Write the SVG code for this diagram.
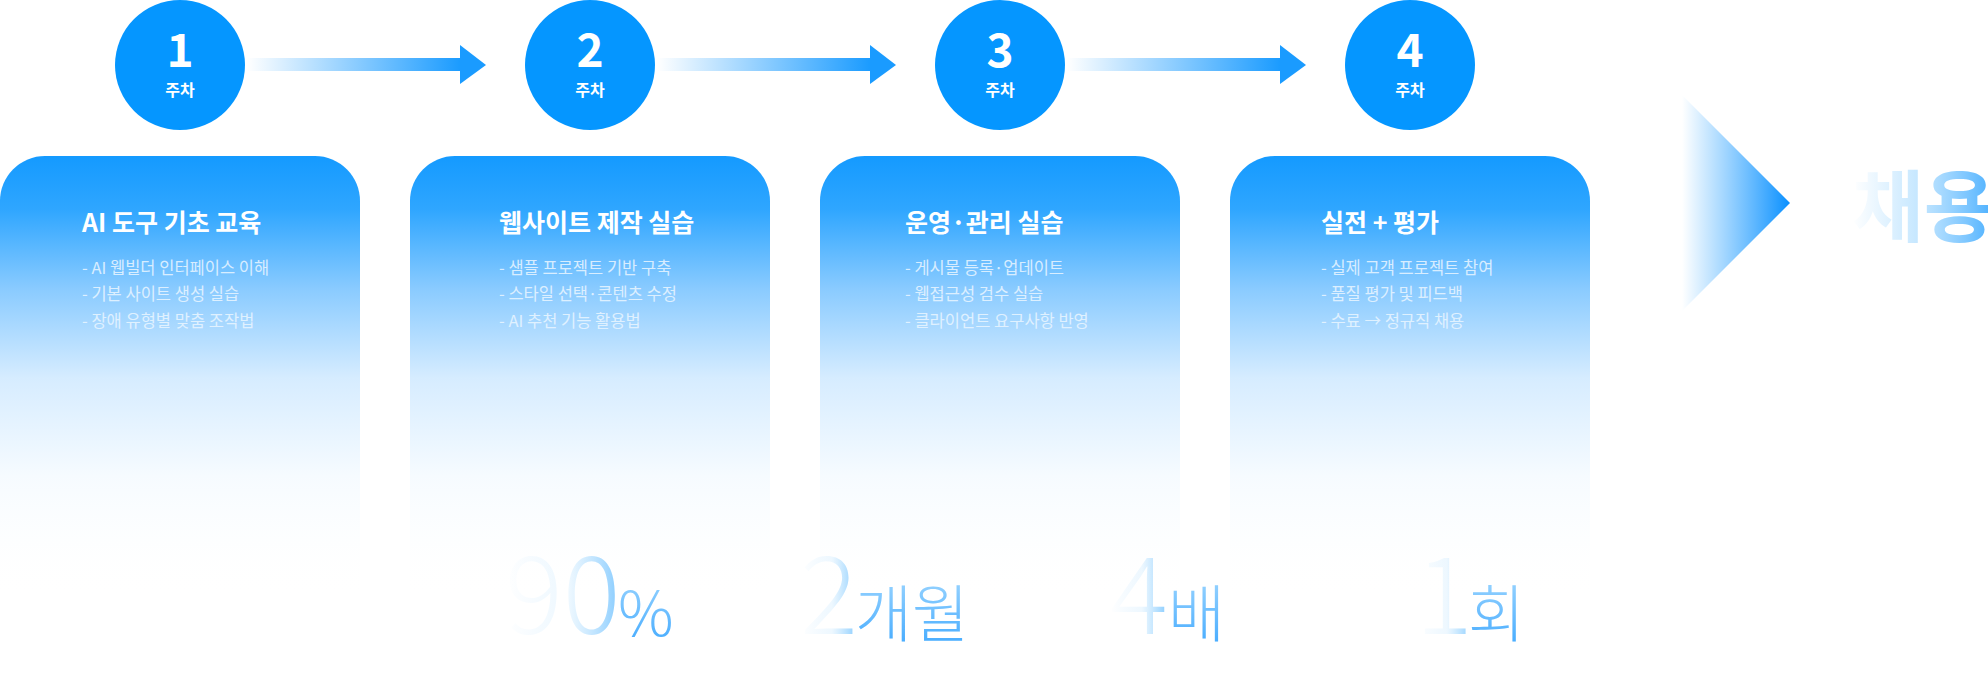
<svg xmlns="http://www.w3.org/2000/svg" width="1988" height="687" viewBox="0 0 1988 687">
<defs>
<linearGradient id="card" x1="0" y1="0" x2="0" y2="1">
<stop offset="0" stop-color="#149aff"/><stop offset="0.12" stop-color="#2fa6ff"/><stop offset="0.3" stop-color="#8acbff"/><stop offset="0.5" stop-color="#d6ecff"/><stop offset="0.72" stop-color="#f6fbff"/><stop offset="1" stop-color="#ffffff" stop-opacity="0"/>
</linearGradient>
<linearGradient id="shaft" x1="0" y1="0" x2="1" y2="0">
<stop offset="0" stop-color="#1a9bff" stop-opacity="0"/><stop offset="1" stop-color="#1a9bff"/>
</linearGradient>
<linearGradient id="chev" x1="0" y1="0" x2="1" y2="0">
<stop offset="0" stop-color="#1a9bff" stop-opacity="0"/><stop offset="1" stop-color="#0a90ff"/>
</linearGradient>
<linearGradient id="num" x1="0" y1="0" x2="1" y2="0">
<stop offset="0" stop-color="#6cc0ff" stop-opacity="0"/><stop offset="0.55" stop-color="#8ccfff" stop-opacity="0.15"/><stop offset="1" stop-color="#5ab8ff" stop-opacity="0.75"/>
</linearGradient>
<linearGradient id="unit" x1="0" y1="0" x2="0" y2="1">
<stop offset="0" stop-color="#a8dbff"/><stop offset="1" stop-color="#3aa6ff"/>
</linearGradient>
<linearGradient id="hire" x1="0" y1="0" x2="1" y2="0">
<stop offset="0" stop-color="#8fd0ff" stop-opacity="0"/><stop offset="0.45" stop-color="#8fd0ff" stop-opacity="0.5"/><stop offset="1" stop-color="#45adff"/>
</linearGradient>
<style>
text{font-family:"Noto Sans CJK KR","Noto Sans",sans-serif}
.circ{fill:#0596ff}
.n{fill:#fff;font-size:46px;font-weight:700;text-anchor:middle}
.w{fill:#fff;font-size:16px;font-weight:700;text-anchor:middle}
.t{fill:#fff;font-size:25px;font-weight:700}
.li{fill:#eaf6ff;font-size:16.5px;opacity:.85}
.big{fill:url(#num);font-size:108px;font-weight:300}
.u{fill:url(#unit);font-size:62px;font-weight:300}
</style>
</defs>
<g id="connectors">
<g fill="url(#shaft)"><rect x="247" y="58" width="214" height="13"/><rect x="657" y="58" width="214" height="13"/><rect x="1067" y="58" width="214" height="13"/></g>
<g fill="#1a9bff"><polygon points="460,45 486,65 460,84"/><polygon points="870,45 896,65 870,84"/><polygon points="1280,45 1306,65 1280,84"/></g>
</g>
<g id="step1"><circle class="circ" cx="180" cy="65" r="65"/><text class="n" x="180" y="67">1</text><text class="w" x="180" y="96">주차</text></g>
<g id="step2"><circle class="circ" cx="590" cy="65" r="65"/><text class="n" x="590" y="67">2</text><text class="w" x="590" y="96">주차</text></g>
<g id="step3"><circle class="circ" cx="1000" cy="65" r="65"/><text class="n" x="1000" y="67">3</text><text class="w" x="1000" y="96">주차</text></g>
<g id="step4"><circle class="circ" cx="1410" cy="65" r="65"/><text class="n" x="1410" y="67">4</text><text class="w" x="1410" y="96">주차</text></g>
<g id="card1"><path d="M0,600 V201 a45,45 0 0 1 45,-45 H315 a45,45 0 0 1 45,45 V600 Z" fill="url(#card)"/>
<text class="t" x="82" y="232">AI 도구 기초 교육</text>
<text class="li" x="82" y="274">-  AI 웹빌더 인터페이스 이해</text><text class="li" x="82" y="300">-  기본 사이트 생성 실습</text><text class="li" x="82" y="327">-  장애 유형별 맞춤 조작법</text></g>
<g id="card2"><path d="M410,600 V201 a45,45 0 0 1 45,-45 H725 a45,45 0 0 1 45,45 V600 Z" fill="url(#card)"/>
<text class="t" x="499" y="232">웹사이트 제작 실습</text>
<text class="li" x="499" y="274">-  샘플 프로젝트 기반 구축</text><text class="li" x="499" y="300">-  스타일 선택·콘텐츠 수정</text><text class="li" x="499" y="327">-  AI 추천 기능 활용법</text>
<text class="big" x="505" y="634">90</text><text class="u" x="618" y="636" font-size="50">%</text></g>
<g id="card3"><path d="M820,600 V201 a45,45 0 0 1 45,-45 H1135 a45,45 0 0 1 45,45 V600 Z" fill="url(#card)"/>
<text class="t" x="905" y="232">운영·관리 실습</text>
<text class="li" x="905" y="274">-  게시물 등록·업데이트</text><text class="li" x="905" y="300">-  웹접근성 검수 실습</text><text class="li" x="905" y="327">-  클라이언트 요구사항 반영</text>
<text class="big" x="800" y="634">2</text><text class="u" x="855" y="637">개월</text>
<text class="big" x="1110" y="634">4</text><text class="u" x="1168" y="637">배</text></g>
<g id="card4"><path d="M1230,600 V201 a45,45 0 0 1 45,-45 H1545 a45,45 0 0 1 45,45 V600 Z" fill="url(#card)"/>
<text class="t" x="1321" y="232">실전 + 평가</text>
<text class="li" x="1321" y="274">-  실제 고객 프로젝트 참여</text><text class="li" x="1321" y="300">-  품질 평가 및 피드백</text><text class="li" x="1321" y="327">-  수료 → 정규직 채용</text>
<text class="big" x="1415" y="634">1</text><text class="u" x="1468" y="637">회</text></g>
<g id="hire"><polygon points="1682,95 1790,203 1682,311" fill="url(#chev)"/>
<text x="1852" y="236" font-size="78" font-weight="700" fill="url(#hire)">채용</text></g>
</svg>
